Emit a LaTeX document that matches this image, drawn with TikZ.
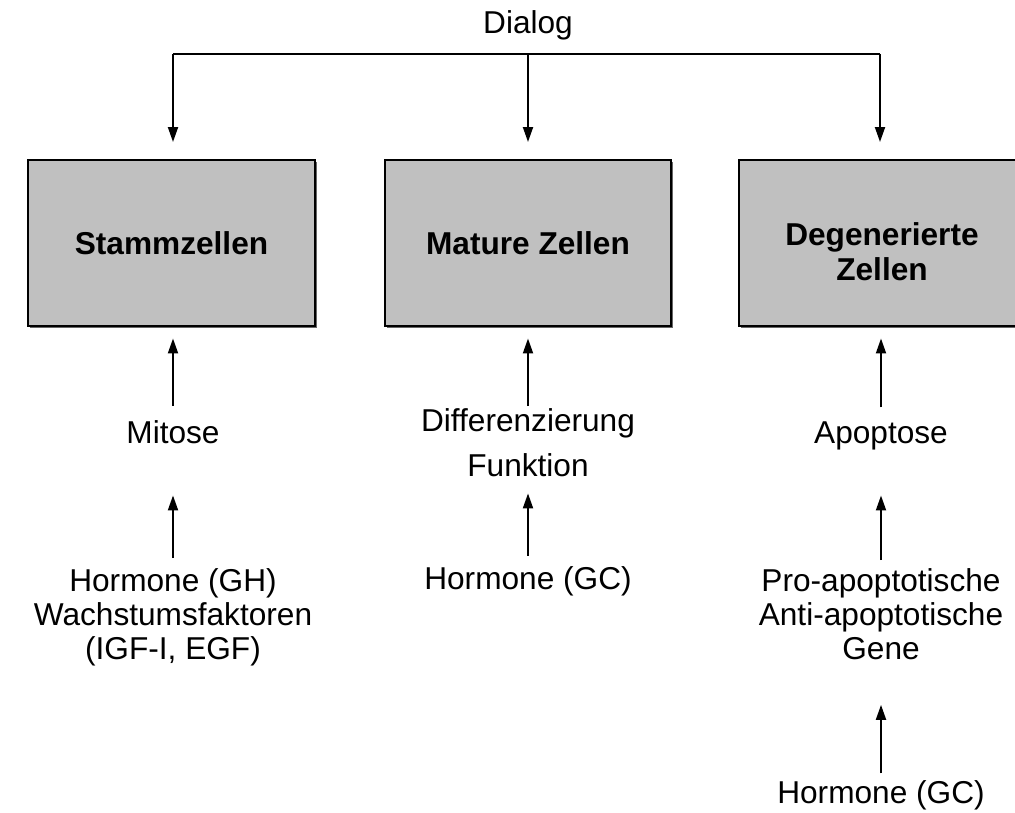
\documentclass[tikz,border=0pt]{standalone}
\usepackage{fontspec}
\setmainfont{Liberation Sans}
\usetikzlibrary{arrows.meta,shadows}
\definecolor{cellgray}{RGB}{192,192,192}
\tikzset{
  cellbox/.style={draw, line width=1.15pt, fill=cellgray, minimum width=5.74cm,
    minimum height=3.32cm, align=center, font=\fontsize{18}{19.8}\selectfont\bfseries,
    drop shadow={shadow xshift=0.04cm, shadow yshift=-0.04cm, fill=black!60, opacity=1}},
  lbl/.style={align=center, inner sep=0pt, font=\fontsize{18}{19.3}\selectfont},
  arr/.style={line width=1.1pt, -{Triangle[length=0.3cm,width=0.2cm]}},
}
\begin{document}
\begin{tikzpicture}[x=0.02cm, y=-0.02cm]
\useasboundingbox (0,0) rectangle (1015,813);
% cells
\node[cellbox] (stamm) at (171.5,243) {Stammzellen};
\node[cellbox] (mature) at (528,243) {Mature Zellen};
\node[cellbox, text height=43pt, text depth=0pt] (degen) at (882,243) {Degenerierte\\Zellen};
% dialog bracket
\node[lbl] (dialog) at (528,25) {Dialog};
\coordinate (dl) at (173,54);
\coordinate (dm) at (528,54);
\coordinate (dr) at (880,54);
\draw[line width=1.1pt] (dl) -- (dr);
\foreach \c/\b in {dl/stamm, dm/mature, dr/degen}
  \draw[arr, shorten >=0.34cm] (\c) -- (\c |- \b.north);
% labels
\node[lbl] (mitose) at (173,432) {Mitose};
\node[lbl] (diff) at (528,443) {Differenzierung\\[0.22cm]Funktion};
\node[lbl] (apopt) at (881,436) {Apoptose};
\node[lbl] (gh) at (173,617) {Hormone (GH)\\Wachstumsfaktoren\\(IGF-I, EGF)};
\node[lbl] (gc) at (528,581) {Hormone (GC)};
\node[lbl] (gene) at (881,614) {Pro-apoptotische\\Anti-apoptotische\\Gene};
\node[lbl] (gcb) at (881,795) {Hormone (GC)};
% arrows
\draw[arr, shorten <=0.29cm, shorten >=0.23cm] (mitose.north) -- (mitose |- stamm.south);
\draw[arr, shorten <=0.2cm, shorten >=1.03cm] (gh.north) -- (mitose.south);
\draw[arr, shorten <=0.05cm, shorten >=0.23cm] (diff.north) -- (diff |- mature.south);
\draw[arr, shorten <=0.2cm, shorten >=0.32cm] (gc.north) -- (diff.south);
\draw[arr, shorten <=0.28cm, shorten >=0.23cm] (apopt.north) -- (apopt |- degen.south);
\draw[arr, shorten <=0.16cm, shorten >=0.9cm] (gene.north) -- (apopt.south);
\draw[arr, shorten <=0.13cm, shorten >=0.9cm] (gcb.north) -- (gene.south);
\end{tikzpicture}
\end{document}
